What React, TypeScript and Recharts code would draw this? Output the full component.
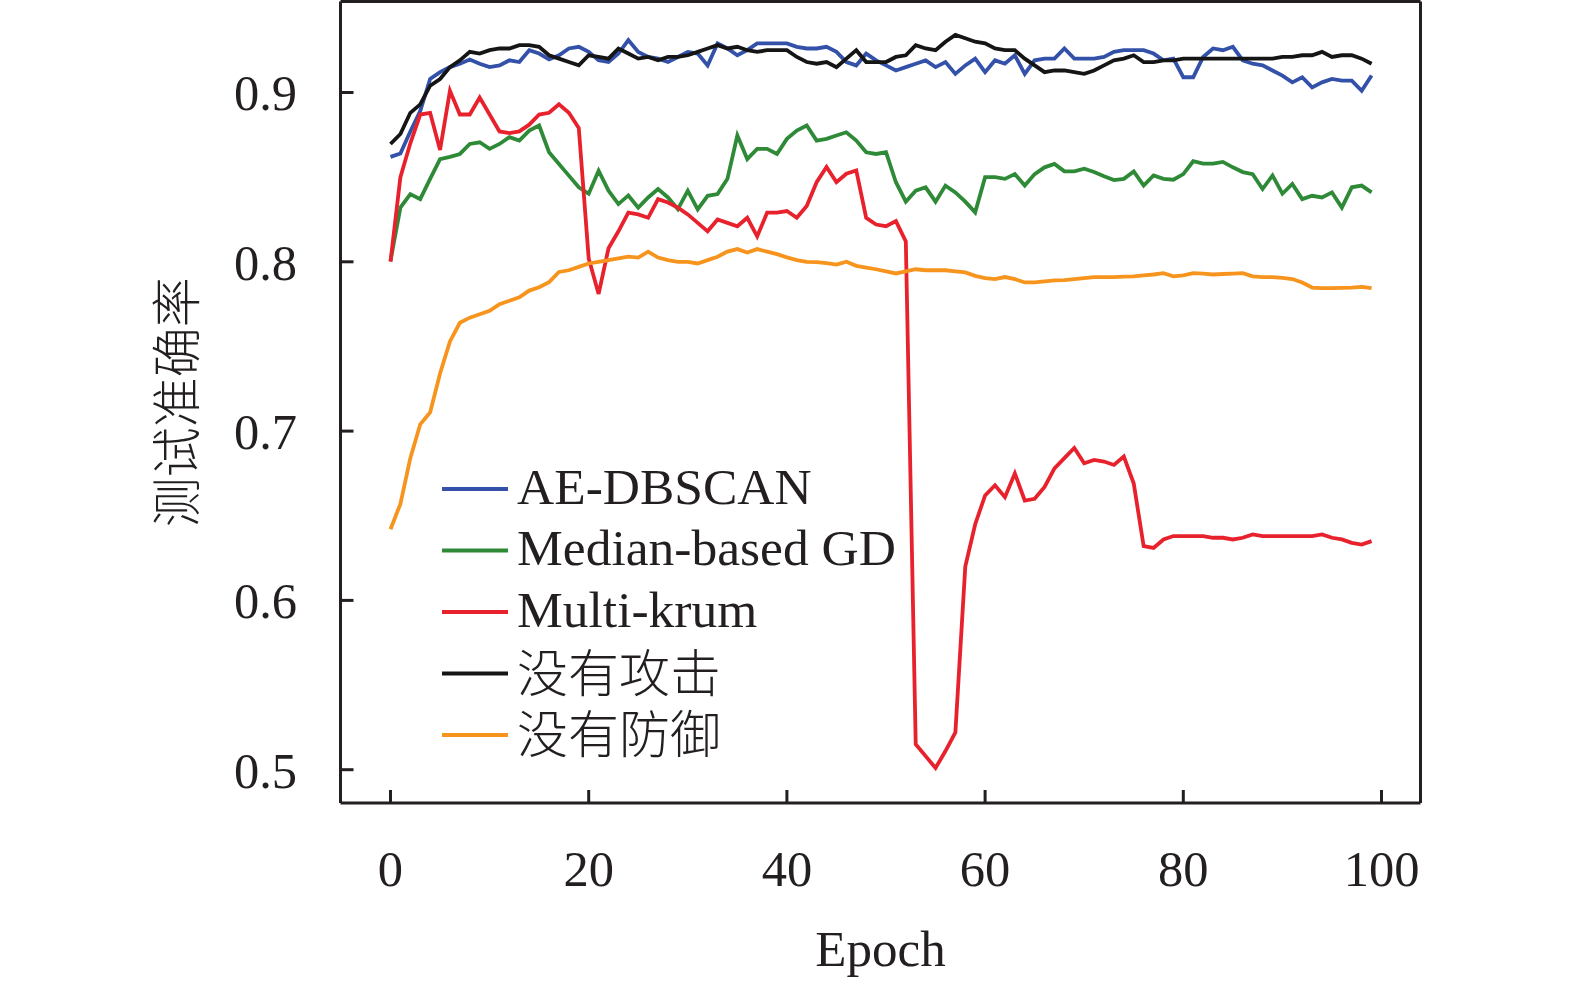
import React from 'react';
import { LineChart, Line, XAxis, YAxis, Legend, ReferenceLine } from 'recharts';

const AE_DBSCAN = [
  0.862, 0.864, 0.877, 0.889, 0.908, 0.912, 0.915, 0.917, 0.9195, 0.917,
  0.915, 0.916, 0.919, 0.918, 0.925, 0.923, 0.9195, 0.922, 0.926, 0.927,
  0.924, 0.919, 0.918, 0.923, 0.931, 0.924, 0.921, 0.92, 0.918, 0.921,
  0.924, 0.923, 0.916, 0.929, 0.926, 0.922, 0.925, 0.929, 0.929, 0.929,
  0.929, 0.927, 0.926, 0.926, 0.927, 0.924, 0.918, 0.916, 0.923, 0.919,
  0.916, 0.913, 0.915, 0.917, 0.919, 0.915, 0.918, 0.911, 0.916, 0.92,
  0.912, 0.919, 0.917, 0.922, 0.911, 0.919, 0.92, 0.92, 0.926, 0.92,
  0.92, 0.92, 0.921, 0.924, 0.925, 0.925, 0.925, 0.923, 0.919, 0.92,
  0.909, 0.909, 0.921, 0.926, 0.925, 0.927, 0.919, 0.917, 0.916, 0.913,
  0.91, 0.906, 0.909, 0.903, 0.906, 0.908, 0.907, 0.907, 0.901, 0.91,
];

const MEDIAN_GD = [
  0.8006, 0.832, 0.84, 0.837, 0.849, 0.8607, 0.862, 0.8637, 0.8696, 0.8706,
  0.8667, 0.8696, 0.8736, 0.8716, 0.8775, 0.8805, 0.8647, 0.8578, 0.8509, 0.844,
  0.8402, 0.8538, 0.842, 0.8341, 0.8392, 0.832, 0.838, 0.843, 0.838, 0.8311,
  0.842, 0.831, 0.839, 0.84, 0.849, 0.8746, 0.8607, 0.8667, 0.8667, 0.8637,
  0.8726, 0.8775, 0.8805, 0.8716, 0.8726, 0.8746, 0.8765, 0.8716, 0.8647, 0.8637,
  0.8647, 0.847, 0.8355, 0.842, 0.844, 0.8355, 0.845, 0.841, 0.8355, 0.8292,
  0.85, 0.85, 0.849, 0.8518, 0.845, 0.8518, 0.8558, 0.8578, 0.8534, 0.8534,
  0.855, 0.853, 0.8505, 0.8483, 0.849, 0.8534, 0.845, 0.851, 0.849, 0.8485,
  0.8518, 0.8594, 0.858, 0.858, 0.859, 0.8558, 0.853, 0.8518, 0.843, 0.851,
  0.8402, 0.846, 0.837, 0.839, 0.838, 0.841, 0.832, 0.844, 0.845, 0.841,
];

const MULTI_KRUM = [
  0.8, 0.85, 0.87, 0.887, 0.888, 0.866, 0.901, 0.887, 0.887, 0.897,
  0.887, 0.877, 0.876, 0.877, 0.881, 0.887, 0.888, 0.893, 0.888, 0.879,
  0.802, 0.781, 0.808, 0.818, 0.829, 0.828, 0.826, 0.837, 0.835, 0.832,
  0.828, 0.823, 0.818, 0.825, 0.823, 0.821, 0.826, 0.815, 0.829, 0.829,
  0.83, 0.826, 0.833, 0.847, 0.856, 0.847, 0.852, 0.854, 0.826, 0.822,
  0.821, 0.824, 0.812, 0.515, 0.508, 0.501, 0.511, 0.522, 0.62, 0.645,
  0.662, 0.668, 0.661, 0.675, 0.659, 0.66, 0.667, 0.678, 0.684, 0.69,
  0.681, 0.683, 0.682, 0.68, 0.685, 0.669, 0.632, 0.631, 0.636, 0.638,
  0.638, 0.638, 0.638, 0.637, 0.637, 0.636, 0.637, 0.639, 0.638, 0.638,
  0.638, 0.638, 0.638, 0.638, 0.639, 0.637, 0.636, 0.634, 0.633, 0.635,
];

const NO_ATTACK = [
  0.8696, 0.8755, 0.888, 0.893, 0.904, 0.908, 0.915, 0.919, 0.924, 0.923,
  0.925, 0.926, 0.926, 0.928, 0.928, 0.927, 0.922, 0.92, 0.918, 0.916,
  0.922, 0.921, 0.92, 0.926, 0.923, 0.92, 0.921, 0.919, 0.921, 0.921,
  0.922, 0.924, 0.926, 0.928, 0.926, 0.927, 0.925, 0.924, 0.925, 0.925,
  0.925, 0.921, 0.918, 0.917, 0.918, 0.915, 0.92, 0.925, 0.918, 0.918,
  0.918, 0.921, 0.922, 0.928, 0.926, 0.925, 0.93, 0.934, 0.932, 0.93,
  0.929, 0.926, 0.925, 0.925, 0.92, 0.916, 0.912, 0.913, 0.913, 0.912,
  0.911, 0.913, 0.916, 0.919, 0.92, 0.922, 0.918, 0.918, 0.919, 0.919,
  0.92, 0.92, 0.92, 0.92, 0.92, 0.92, 0.92, 0.92, 0.92, 0.92,
  0.921, 0.921, 0.922, 0.922, 0.924, 0.921, 0.922, 0.922, 0.92, 0.917,
];

const NO_DEFENSE = [
  0.642, 0.657, 0.684, 0.704, 0.711, 0.734, 0.753, 0.764, 0.767, 0.769,
  0.771, 0.775, 0.777, 0.779, 0.783, 0.785, 0.788, 0.794, 0.795, 0.797,
  0.799, 0.8, 0.801, 0.802, 0.803, 0.8025, 0.806, 0.8025, 0.801, 0.8,
  0.8, 0.799, 0.801, 0.803, 0.806, 0.8075, 0.8055, 0.8075, 0.806, 0.8045,
  0.8026, 0.801, 0.8, 0.7998, 0.7992, 0.7983, 0.8, 0.7976, 0.7966, 0.7956,
  0.7943, 0.7931, 0.7943, 0.7956, 0.795, 0.795, 0.795, 0.7943, 0.7937, 0.7917,
  0.7904, 0.7898, 0.791, 0.7898, 0.7878, 0.7878, 0.7884, 0.789, 0.7892, 0.7898,
  0.7904, 0.791, 0.791, 0.791, 0.7912, 0.7914, 0.792, 0.7925, 0.7933, 0.7914,
  0.792, 0.7933, 0.793, 0.7925, 0.7928, 0.793, 0.7933, 0.7914, 0.791, 0.791,
  0.7905, 0.7898, 0.7878, 0.7848, 0.7845, 0.7844, 0.7846, 0.7848, 0.7852, 0.7844,
];

const X_TICKS = [0, 20, 40, 60, 80, 100];
const Y_TICKS = [0.5, 0.6, 0.7, 0.8, 0.9];
const X_DOMAIN = [-5.045, 103.935];
const Y_DOMAIN = [0.48033, 0.95375];
const X_LABEL = 'Epoch';
const Y_LABEL = '测试准确率';

const SERIES = [
  { key: 'ae', name: 'AE-DBSCAN', color: '#3351a9', values: AE_DBSCAN },
  { key: 'median', name: 'Median-based GD', color: '#2f8a38', values: MEDIAN_GD },
  { key: 'krum', name: 'Multi-krum', color: '#e8222d', values: MULTI_KRUM },
  { key: 'noattack', name: '没有攻击', color: '#151515', values: NO_ATTACK },
  { key: 'nodefense', name: '没有防御', color: '#f7941d', values: NO_DEFENSE },
];

const data = AE_DBSCAN.map((_, i) => {
  const row: Record<string, number> = { epoch: i };
  SERIES.forEach((s) => {
    row[s.key] = s.values[i];
  });
  return row;
});

const FONT = "'Liberation Serif', 'Times New Roman', 'Noto Sans CJK SC', serif";
const INK = '#231f20';

const LegendContent = () => (
  <svg width={500} height={320} style={{ display: 'block' }}>
    {SERIES.map((s, i) => {
      const cy = 30 + i * 61.5;
      const cjk = /[\u4e00-\u9fff]/.test(s.name);
      return (
        <g key={s.key}>
          <line x1={0} x2={66} y1={cy} y2={cy} stroke={s.color} strokeWidth={4} />
          <text
            x={75}
            y={cy + (cjk ? 18 : 14.5)}
            fontFamily={FONT}
            fontSize={cjk ? 51 : 51.5}
            fill={INK}
            fontWeight={cjk ? 300 : 400}
          >
            {s.name}
          </text>
        </g>
      );
    })}
  </svg>
);

export default function App() {
  return (
    <div style={{ position: 'absolute', left: 0, top: 0, width: 1575, height: 987, background: '#fff' }}>
      <LineChart
        width={1575}
        height={987}
        data={data}
        margin={{ top: 1.5, right: 154.5, left: 14, bottom: 0 }}
      >
        <XAxis
          dataKey="epoch"
          type="number"
          domain={X_DOMAIN}
          allowDataOverflow
          ticks={X_TICKS}
          interval={0}
          height={184}
          tickSize={-13}
          tickMargin={60.5}
          axisLine={{ stroke: INK, strokeWidth: 3 }}
          tickLine={{ stroke: INK, strokeWidth: 3 }}
          tick={{ fontFamily: FONT, fontSize: 50.5, fill: INK }}
          label={{ value: X_LABEL, position: 'insideBottom', offset: 21, fontFamily: FONT, fontSize: 51, fill: INK }}
        />
        <YAxis
          type="number"
          domain={Y_DOMAIN}
          allowDataOverflow
          ticks={Y_TICKS}
          interval={0}
          width={326.5}
          tickSize={-13}
          tickMargin={56.5}
          tickFormatter={(v: number) => v.toFixed(1)}
          axisLine={{ stroke: INK, strokeWidth: 3 }}
          tickLine={{ stroke: INK, strokeWidth: 3 }}
          tick={{ fontFamily: FONT, fontSize: 50.5, fill: INK }}
          label={{ value: Y_LABEL, angle: -90, position: 'center', fontFamily: FONT, fontSize: 50, fill: INK, fontWeight: 300 }}
        />
        <ReferenceLine y={Y_DOMAIN[1]} stroke={INK} strokeWidth={3} ifOverflow="visible" />
        <ReferenceLine x={X_DOMAIN[1]} stroke={INK} strokeWidth={3} ifOverflow="visible" />
        <Legend
          layout="vertical"
          align="center"
          verticalAlign="middle"
          wrapperStyle={{ left: 442, top: 459, width: 500, height: 320 }}
          content={() => <LegendContent />}
        />
        {SERIES.map((s) => (
          <Line
            key={s.key}
            dataKey={s.key}
            name={s.name}
            type="linear"
            stroke={s.color}
            strokeWidth={3.8}
            dot={false}
            activeDot={false}
            isAnimationActive={false}
          />
        ))}
      </LineChart>
    </div>
  );
}
